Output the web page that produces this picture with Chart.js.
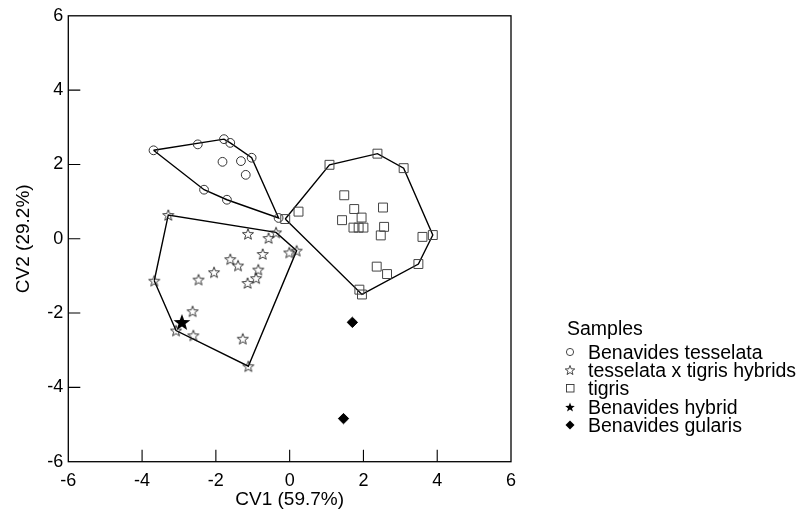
<!DOCTYPE html>
<html>
<head>
<meta charset="utf-8">
<script src="https://cdn.jsdelivr.net/npm/chart.js@4.4.0/dist/chart.umd.min.js"></script>
<style>
  body { margin: 0; background: #fff; }
  #wrap { position: relative; width: 801px; height: 516px; }
  #legend { position: absolute; left: 0; top: 0; font-family: 'Liberation Sans', Arial, sans-serif; color: #000; font-size: 19.5px; }
  #legend .row { position: absolute; height: 20px; line-height: 20px; white-space: nowrap; }
  #legend canvas { position: absolute; left: 0; top: 0; }
  #legend span { position: absolute; left: 23px; top: 0; }
</style>
</head>
<body>
<div id="wrap">
  <canvas id="chart" width="801" height="516"></canvas>
  <div id="legend"></div>
</div>
<script>
// values, [CV1, CV2]
const benavidesTesselata = [
  [-3.69, 2.38], [-2.49, 2.54], [-1.78, 2.68], [-1.61, 2.58], [-1.03, 2.18],
  [-1.82, 2.07], [-1.32, 2.09], [-1.19, 1.72], [-2.32, 1.32], [-1.70, 1.05],
  [-0.30, 0.56]
];
const hybrids = [
  [-3.29, 0.64], [-1.13, 0.13], [-0.57, 0.02], [-0.37, 0.17], [-0.73, -0.41],
  [-0.01, -0.37], [0.19, -0.32], [-1.61, -0.55], [-1.40, -0.72], [-2.05, -0.90],
  [-2.47, -1.10], [-0.85, -0.83], [-0.91, -1.06], [-1.14, -1.19], [-3.67, -1.13],
  [-2.63, -1.95], [-3.08, -2.47], [-2.61, -2.60], [-1.27, -2.69], [-1.12, -3.43]
];
const tigris = [
  [-0.12, 0.53], [0.24, 0.73], [1.08, 1.99], [2.38, 2.29], [3.09, 1.90],
  [1.48, 1.17], [1.75, 0.80], [1.42, 0.50], [1.95, 0.57], [2.53, 0.84],
  [1.73, 0.30], [1.87, 0.30], [2.00, 0.30], [2.56, 0.32], [2.47, 0.09],
  [3.60, 0.05], [3.88, 0.10], [3.49, -0.68], [2.36, -0.75], [2.64, -0.95],
  [1.89, -1.37], [1.96, -1.50]
];
const benavidesHybrid = [[-2.92, -2.24]];
const benavidesGularis = [[1.70, -2.25], [1.46, -4.84]];

const seriesNames = ['Benavides tesselata', 'tesselata x tigris hybrids', 'tigris', 'Benavides hybrid', 'Benavides gularis'];
const axisTicks = [-6, -4, -2, 0, 2, 4, 6];

const FONT = "'Liberation Sans', Arial, sans-serif";

function toXY(list) {
  return list.map(p => ({ x: p[0], y: p[1] }));
}

// convex hull (monotone chain), closed
function hull(list) {
  const pts = list.slice().sort((a, b) => a[0] - b[0] || a[1] - b[1]);
  const cross = (o, a, b) => (a[0] - o[0]) * (b[1] - o[1]) - (a[1] - o[1]) * (b[0] - o[0]);
  const lower = [], upper = [];
  pts.forEach(p => {
    while (lower.length >= 2 && cross(lower[lower.length - 2], lower[lower.length - 1], p) <= 0) lower.pop();
    lower.push(p);
  });
  pts.slice().reverse().forEach(p => {
    while (upper.length >= 2 && cross(upper[upper.length - 2], upper[upper.length - 1], p) <= 0) upper.pop();
    upper.push(p);
  });
  const h = lower.slice(0, -1).concat(upper.slice(0, -1));
  h.push(h[0]);
  return toXY(h);
}

function starPath(ctx, cx, cy, R, r) {
  ctx.beginPath();
  for (let i = 0; i < 10; i++) {
    const a = -Math.PI / 2 + i * Math.PI / 5;
    const rad = i % 2 ? r : R;
    const x = cx + rad * Math.cos(a), y = cy + rad * Math.sin(a);
    if (i === 0) ctx.moveTo(x, y); else ctx.lineTo(x, y);
  }
  ctx.closePath();
}

function makeStar(R, filled) {
  const c = document.createElement('canvas');
  const s = Math.ceil(R * 2 + 4);
  c.width = s; c.height = s;
  const ctx = c.getContext('2d');
  starPath(ctx, s / 2, s / 2 + R * 0.1, R, R * 0.42);
  if (filled) {
    ctx.fillStyle = '#000';
    ctx.fill();
  } else {
    ctx.strokeStyle = '#222';
    ctx.lineWidth = 0.9;
    ctx.stroke();
  }
  return c;
}

const hollowStar = makeStar(5.8, false);
const solidStar = makeStar(8.8, true);

const hullStyle = {
  showLine: true, pointRadius: 0, borderColor: '#000', borderWidth: 1.4,
  fill: false, order: 10, tension: 0
};

const frameTicks = {
  id: 'frameTicks',
  afterDraw(chart) {
    const { ctx, chartArea: a, scales } = chart;
    ctx.save();
    ctx.strokeStyle = '#000';
    ctx.lineWidth = 1.3;
    ctx.strokeRect(a.left, a.top, a.right - a.left, a.bottom - a.top);
    ctx.lineWidth = 1.1;
    ctx.beginPath();
    scales.x.ticks.forEach(t => {
      if (t.value <= -6 || t.value >= 6) return;
      const px = scales.x.getPixelForValue(t.value);
      ctx.moveTo(px, a.bottom);
      ctx.lineTo(px, a.bottom - 12);
    });
    scales.y.ticks.forEach(t => {
      if (t.value <= -6 || t.value >= 6) return;
      const py = scales.y.getPixelForValue(t.value);
      ctx.moveTo(a.left, py);
      ctx.lineTo(a.left + 12, py);
    });
    ctx.stroke();
    ctx.restore();
  }
};

new Chart(document.getElementById('chart'), {
  type: 'scatter',
  data: {
    datasets: [
      { label: seriesNames[0], data: toXY(benavidesTesselata), pointStyle: 'circle', pointRadius: 4.4,
        borderColor: '#333', borderWidth: 1, backgroundColor: 'rgba(0,0,0,0)', order: 1 },
      { label: seriesNames[1], data: toXY(hybrids), pointStyle: hollowStar, order: 1 },
      { label: seriesNames[2], data: toXY(tigris), pointStyle: 'rect', pointRadius: 6.3,
        borderColor: '#444', borderWidth: 1, backgroundColor: 'rgba(0,0,0,0)', order: 1 },
      { label: seriesNames[3], data: toXY(benavidesHybrid), pointStyle: solidStar, order: 0 },
      { label: seriesNames[4], data: toXY(benavidesGularis), pointStyle: 'rectRot', pointRadius: 5.2,
        borderColor: '#000', borderWidth: 1, backgroundColor: '#000', order: 0 },
      Object.assign({ label: 'hull1', data: hull(benavidesTesselata) }, hullStyle),
      Object.assign({ label: 'hull2', data: hull(hybrids) }, hullStyle),
      Object.assign({ label: 'hull3', data: hull(tigris) }, hullStyle)
    ]
  },
  options: {
    responsive: false,
    animation: false,
    events: [],
    layout: { padding: { left: 0, right: 290, top: 14.5, bottom: 0 } },
    plugins: { legend: { display: false }, tooltip: { enabled: false } },
    scales: {
      x: {
        type: 'linear', min: -6, max: 6,
        afterBuildTicks: s => { s.ticks = axisTicks.map(v => ({ value: v })); },
        afterFit: s => { s.height = 54.3; },
        grid: { display: false, drawTicks: false },
        border: { display: false },
        ticks: { color: '#000', padding: 9, maxRotation: 0, autoSkip: false, font: { family: FONT, size: 18 } },
        title: { display: true, text: 'CV1 (59.7%)', color: '#000', font: { family: FONT, size: 19 }, padding: { top: 0, bottom: 5 } }
      },
      y: {
        type: 'linear', min: -6, max: 6,
        afterBuildTicks: s => { s.ticks = axisTicks.map(v => ({ value: v })); },
        afterFit: s => { s.width = 68.3; },
        grid: { display: false, drawTicks: false },
        border: { display: false },
        ticks: { color: '#000', padding: 5, autoSkip: false, font: { family: FONT, size: 18 } },
        title: { display: true, text: 'CV2 (29.2%)', color: '#000', font: { family: FONT, size: 19 }, padding: { top: 12, bottom: 0 } }
      }
    }
  },
  plugins: [frameTicks]
});

// legend
function legendMarker(i) {
  const c = document.createElement('canvas');
  c.width = 16; c.height = 16;
  const ctx = c.getContext('2d');
  ctx.strokeStyle = '#333';
  ctx.lineWidth = 0.9;
  if (i === 0) { ctx.beginPath(); ctx.arc(8, 8, 3.6, 0, Math.PI * 2); ctx.stroke(); }
  if (i === 1) { starPath(ctx, 8, 8.5, 5, 2.1); ctx.stroke(); }
  if (i === 2) { ctx.strokeRect(4.5, 4.5, 7.5, 7.5); }
  if (i === 3) { starPath(ctx, 8, 8.5, 5, 2.1); ctx.fillStyle = '#000'; ctx.fill(); }
  if (i === 4) {
    ctx.beginPath(); ctx.moveTo(8, 3.5); ctx.lineTo(12.5, 8); ctx.lineTo(8, 12.5); ctx.lineTo(3.5, 8); ctx.closePath();
    ctx.fillStyle = '#000'; ctx.fill();
  }
  return c;
}

const legend = document.getElementById('legend');
const title = document.createElement('div');
title.className = 'row';
title.style.left = '567px';
title.style.top = '318px';
title.textContent = 'Samples';
legend.appendChild(title);
seriesNames.forEach((name, i) => {
  const row = document.createElement('div');
  row.className = 'row';
  row.style.left = '562px';
  row.style.top = (342 + i * 18.2) + 'px';
  const m = legendMarker(i);
  m.style.top = '2px';
  row.appendChild(m);
  const sp = document.createElement('span');
  sp.style.left = '26px';
  sp.textContent = name;
  row.appendChild(sp);
  legend.appendChild(row);
});
</script>
</body>
</html>
